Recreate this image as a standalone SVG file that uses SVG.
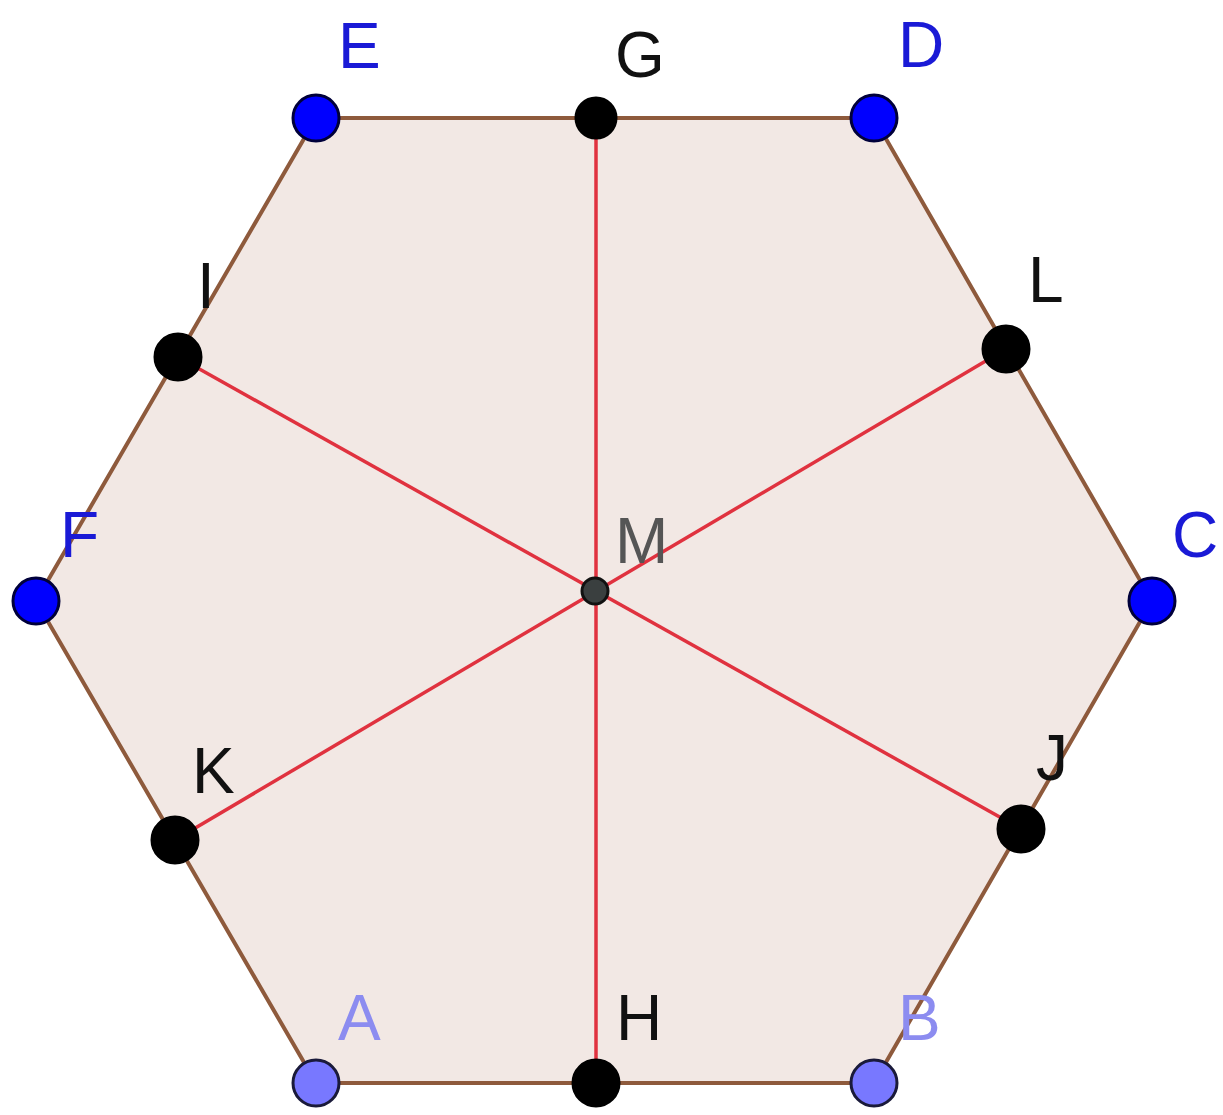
<svg xmlns="http://www.w3.org/2000/svg" width="1223" height="1115" viewBox="0 0 1223 1115">
<style>
.lbl{font-family:"Liberation Sans",Arial,sans-serif;font-size:64px}
.blue{fill:#1a1ad6}
.lblue{fill:#8c8cf0}
.blk{fill:#111}
.gry{fill:#555}
.pt{fill:#000;stroke:#000;stroke-width:3}
.bp{fill:#0000ff;stroke:#00003a;stroke-width:3}
.lp{fill:#7878ff;stroke:#1a1a3a;stroke-width:3}
</style>
<rect width="1223" height="1115" fill="#fff"/>
<g id="hexagon">
<polygon points="316,1083 874,1083 1152,601 874,118 316,118 36,601" fill="#f2e8e4" stroke="#8e5a3c" stroke-width="4"/>
</g>
<g id="connectors" stroke="#e0323f" stroke-width="3.5" fill="none">
<line x1="596" y1="118" x2="596" y2="1083"/>
<line x1="178" y1="357" x2="1021" y2="829"/>
<line x1="1006" y1="349" x2="175" y2="840"/>
</g>
<g id="A"><circle class="lp" cx="316" cy="1083" r="23"/><text class="lbl lblue" x="338" y="1040">A</text></g>
<g id="B"><circle class="lp" cx="874" cy="1083" r="23"/><text class="lbl lblue" x="898" y="1040">B</text></g>
<g id="C"><circle class="bp" cx="1152" cy="601" r="23"/><text class="lbl blue" x="1172" y="557">C</text></g>
<g id="D"><circle class="bp" cx="874" cy="118" r="23"/><text class="lbl blue" x="898" y="67">D</text></g>
<g id="E"><circle class="bp" cx="316" cy="118" r="23"/><text class="lbl blue" x="338" y="68">E</text></g>
<g id="F"><circle class="bp" cx="36" cy="601" r="23"/><text class="lbl blue" x="60" y="557">F</text></g>
<g id="G"><circle class="pt" cx="596" cy="118" r="20"/><text class="lbl blk" x="615" y="77">G</text></g>
<g id="H"><circle class="pt" cx="596" cy="1083" r="23"/><text class="lbl blk" x="616" y="1040">H</text></g>
<g id="I"><circle class="pt" cx="178" cy="357" r="23"/><text class="lbl blk" x="197" y="308">I</text></g>
<g id="J"><circle class="pt" cx="1021" cy="829" r="23"/><text class="lbl blk" x="1036" y="780">J</text></g>
<g id="K"><circle class="pt" cx="175" cy="840" r="23"/><text class="lbl blk" x="192" y="793">K</text></g>
<g id="L"><circle class="pt" cx="1006" cy="349" r="23"/><text class="lbl blk" x="1028" y="302">L</text></g>
<g id="M"><circle cx="595" cy="591" r="13" fill="#3a3f3f" stroke="#111" stroke-width="3"/><text class="lbl gry" x="615" y="563">M</text></g>
</svg>
